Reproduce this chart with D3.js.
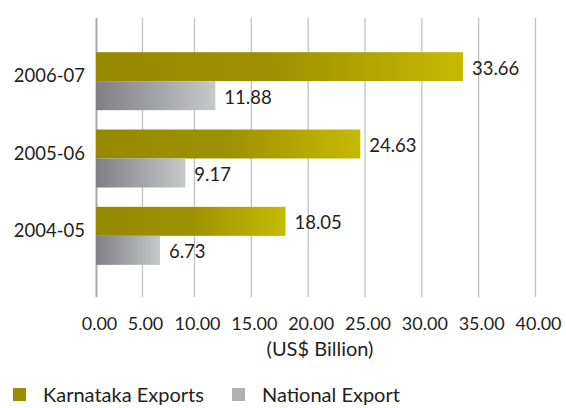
<!DOCTYPE html>
<html>
<head>
<meta charset="utf-8">
<script src="https://cdn.jsdelivr.net/npm/d3@7"></script>
<style>
  body { margin: 0; background: #fff; }
  text { font-family: Lato, "Open Sans", sans-serif; fill: #231f20; }
</style>
</head>
<body>
<div id="chart"></div>
<script>
// exports by year, US$ billion
var years = ["2006-07", "2005-06", "2004-05"];
var seriesNames = ["Karnataka Exports", "National Export"];
var karnataka = [33.66, 24.63, 18.05];
var national = [11.88, 9.17, 6.73];
var ticks = [0, 5, 10, 15, 20, 25, 30, 35, 40];

var width = 566, height = 408;
var gridTop = 18, gridBottom = 297;

var svg = d3.select("#chart").append("svg")
    .attr("width", width)
    .attr("height", height);

var defs = svg.append("defs");
var olive = defs.append("linearGradient").attr("id", "olive");
olive.append("stop").attr("offset", "0%").attr("stop-color", "#968900");
olive.append("stop").attr("offset", "50%").attr("stop-color", "#9e9100");
olive.append("stop").attr("offset", "100%").attr("stop-color", "#c6ba00");
var grey = defs.append("linearGradient").attr("id", "grey");
grey.append("stop").attr("offset", "0%").attr("stop-color", "#7f7f84");
grey.append("stop").attr("offset", "100%").attr("stop-color", "#c7c8ca");

// the original axis is stretched a little at the low end
var x = d3.scaleLinear()
    .domain([0, 5, 10, 40])
    .range([96, 142, 194, 535]);

var y = d3.scaleBand()
    .domain(years)
    .range([42.5, 274.5])
    .paddingInner(0.25)
    .paddingOuter(0.125);

var ySub = d3.scaleBand()
    .domain(seriesNames)
    .range([0, y.bandwidth()]);

var fills = { "Karnataka Exports": "url(#olive)", "National Export": "url(#grey)" };

// grid + tick labels
var axis = svg.append("g")
    .attr("transform", "translate(0," + gridBottom + ")")
    .call(d3.axisBottom(x)
        .tickValues(ticks)
        .tickFormat(d3.format(".2f"))
        .tickSize(-(gridBottom - gridTop))
        .tickPadding(20));
axis.select(".domain").remove();
axis.selectAll(".tick line")
    .attr("stroke", function (d) { return d === 0 ? "#a9a9ad" : "#c2c2c6"; })
    .attr("stroke-width", function (d) { return d === 0 ? 2 : 1.3; });
axis.selectAll(".tick text")
    .attr("dx", 3)
    .style("font-size", "18px")
    .style("font-family", "Lato, 'Open Sans', sans-serif")
    .attr("fill", "#231f20");

svg.append("text")
    .attr("x", 320)
    .attr("y", 356)
    .attr("text-anchor", "middle")
    .style("font-size", "20px")
    .text("(US$ Billion)");

var rows = years.map(function (yr, i) {
    return { year: yr, values: [
        { name: seriesNames[0], value: karnataka[i] },
        { name: seriesNames[1], value: national[i] }
    ] };
});

var group = svg.selectAll(".year")
    .data(rows)
    .enter().append("g")
    .attr("class", "year")
    .attr("transform", function (d) { return "translate(0," + y(d.year) + ")"; });

group.selectAll("rect")
    .data(function (d) { return d.values; })
    .enter().append("rect")
    .attr("x", x(0))
    .attr("y", function (d) { return ySub(d.name); })
    .attr("width", function (d) { return x(d.value) - x(0); })
    .attr("height", ySub.bandwidth())
    .attr("fill", function (d) { return fills[d.name]; });

group.selectAll(".val")
    .data(function (d) { return d.values; })
    .enter().append("text")
    .attr("class", "val")
    .attr("x", function (d) { return x(d.value) + 9; })
    .attr("y", function (d) { return ySub(d.name) + ySub.bandwidth() / 2 + 8; })
    .style("font-size", "18.5px")
    .text(function (d) { return d.value.toFixed(2); });

group.append("text")
    .attr("x", 85)
    .attr("y", y.bandwidth() / 2 + 1)
    .attr("text-anchor", "end")
    .style("font-size", "18.5px")
    .text(function (d) { return d.year; });

// legend
var legendX = [13, 232];
var legendFill = ["#9a8e00", "#b1b1b5"];
var legend = svg.selectAll(".legend")
    .data(seriesNames)
    .enter().append("g")
    .attr("class", "legend")
    .attr("transform", function (d, i) { return "translate(" + legendX[i] + ",388)"; });
legend.append("rect")
    .attr("width", 13)
    .attr("height", 13)
    .attr("fill", function (d, i) { return legendFill[i]; });
legend.append("text")
    .attr("x", 30)
    .attr("y", 14)
    .style("font-size", "20px")
    .text(function (d) { return d; });
</script>
</body>
</html>
